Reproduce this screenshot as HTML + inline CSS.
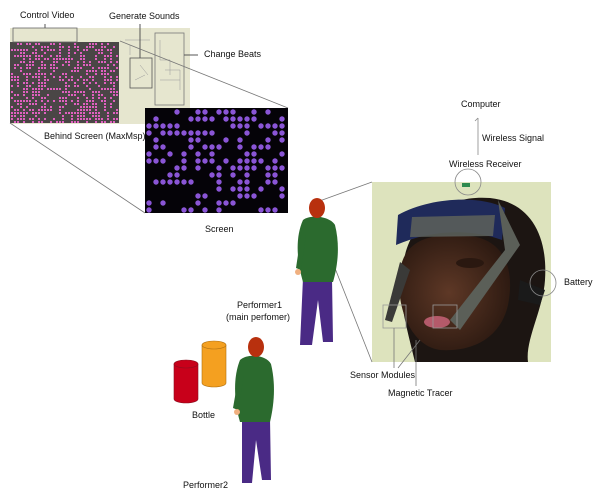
<!DOCTYPE html>
<html><head><meta charset="utf-8"><style>
html,body{margin:0;padding:0;background:#fff;width:600px;height:494px;overflow:hidden}
svg{display:block}
text{font-family:"Liberation Sans",sans-serif;font-size:9px;fill:#111}
</style></head><body>
<svg width="600" height="494" viewBox="0 0 600 494" xmlns="http://www.w3.org/2000/svg">
<defs>
<radialGradient id="face" cx="0.45" cy="0.5" r="0.6"><stop offset="0" stop-color="#5e3826"/><stop offset="1" stop-color="#2a1810"/></radialGradient>
</defs>
<!-- MaxMsp window -->
<rect x="10" y="28" width="180" height="96" fill="#e6e6cf"/>
<rect x="10" y="42" width="109" height="81" fill="#4a4646"/>
<g id="pink"></g>
<rect x="13" y="28" width="64" height="14" fill="none" stroke="#666" stroke-width="0.8"/>
<rect x="130" y="58" width="22" height="30" fill="none" stroke="#555" stroke-width="0.8"/>
<rect x="155" y="33" width="29" height="72" fill="none" stroke="#777" stroke-width="0.8"/>
<g stroke="#999" stroke-width="0.5" fill="none">
<path d="M160 40v20h10v15M165 70h15v20M160 80h20M125 40h25M130 45v10M140 65l8 10M135 80l10-5"/>
</g>
<line x1="45" y1="24" x2="45" y2="28" stroke="#555"/>
<line x1="140" y1="24" x2="140" y2="58" stroke="#555"/>
<line x1="184" y1="55" x2="198" y2="55" stroke="#555"/>
<line x1="10" y1="123" x2="145" y2="213" stroke="#777" stroke-width="0.8"/>
<line x1="120" y1="41" x2="288" y2="108" stroke="#777" stroke-width="0.8"/>
<!-- Screen -->
<rect x="145" y="108" width="143" height="105" fill="#050308"/>
<g id="dots" fill="#8a55d6"></g>
<!-- texts -->
<text x="20" y="18">Control Video</text>
<text x="109" y="19">Generate Sounds</text>
<text x="204" y="57">Change Beats</text>
<text x="44" y="139">Behind Screen (MaxMsp)</text>
<text x="205" y="232">Screen</text>
<text x="461" y="107">Computer</text>
<text x="482" y="141">Wireless Signal</text>
<text x="449" y="167">Wireless Receiver</text>
<text x="564" y="285">Battery</text>
<text x="237" y="308">Performer1</text>
<text x="226" y="320">(main perfomer)</text>
<text x="350" y="378">Sensor Modules</text>
<text x="388" y="396">Magnetic Tracer</text>
<text x="192" y="418">Bottle</text>
<text x="183" y="488">Performer2</text>
<line x1="478" y1="118" x2="478" y2="155" stroke="#888" stroke-width="0.8"/>
<line x1="478" y1="118" x2="475" y2="121" stroke="#888" stroke-width="0.8"/>
<!-- photo -->
<rect x="372" y="182" width="179" height="180" fill="#dde3bd"/>
<path d="M415 362 C405 320 395 290 405 255 C415 215 450 195 490 198 C530 202 548 235 545 280 C543 310 525 340 528 362 Z" fill="#1c1512"/>
<path d="M400 270 C405 240 430 232 470 236 C505 240 515 270 508 305 C500 340 470 352 440 350 C410 346 395 305 400 270Z" fill="url(#face)"/>
<ellipse cx="470" cy="263" rx="14" ry="5" fill="#2a1810"/>
<ellipse cx="437" cy="322" rx="13" ry="6" fill="#b45a6a"/>
<path d="M398 215 C430 197 480 195 505 208 L502 240 C470 228 430 230 396 245 Z" fill="#1f2a5a"/>
<path d="M412 217 L495 215 L493 236 L410 237 Z" fill="#5a5e5a" opacity="0.9"/>
<path d="M498 200 L520 245 L460 330 L450 320 L505 250 Z" fill="#5b5f58"/>
<path d="M400 262 L385 320 L392 322 L410 270 Z" fill="#3a3a38"/>
<path d="M520 280 L545 290 L540 305 L518 300 Z" fill="#1a1a1a"/>
<rect x="462" y="183" width="8" height="4" fill="#2d8a4e"/>
<circle cx="468" cy="182" r="13" fill="none" stroke="#888" stroke-width="0.8"/>
<circle cx="543" cy="283" r="13" fill="none" stroke="#888" stroke-width="0.8"/>
<rect x="383" y="305" width="23" height="23" fill="none" stroke="#999" stroke-width="0.8"/>
<rect x="433" y="305" width="24" height="23" fill="none" stroke="#999" stroke-width="0.8"/>
<line x1="394" y1="328" x2="394" y2="368" stroke="#777" stroke-width="0.8"/>
<line x1="420" y1="340" x2="398" y2="368" stroke="#777" stroke-width="0.8"/>
<line x1="416" y1="340" x2="416" y2="386" stroke="#777" stroke-width="0.8"/>
<line x1="314" y1="203" x2="372" y2="182" stroke="#777" stroke-width="0.8"/>
<line x1="316" y1="220" x2="372" y2="362" stroke="#777" stroke-width="0.8"/>
<!-- performer1 -->
<g>
<path d="M303 278 L332 278 L333 342 L323 342 L318 300 L312 345 L300 345 Z" fill="#4a2a85"/>
<path d="M303 220 C310 214 330 216 335 225 C340 245 338 265 333 282 L303 282 C298 265 294 240 303 220Z" fill="#2b6a2e"/>
<path d="M302 228 L296 268 L301 270 L306 235Z" fill="#2b6a2e"/>
<ellipse cx="317" cy="208" rx="8" ry="10" fill="#b8300e"/>
<ellipse cx="298" cy="272" rx="3" ry="3" fill="#f0b080"/>
</g>
<!-- bottles -->
<g stroke="#8a1020" stroke-width="0.6">
<path d="M174 364 V399 A12 4 0 0 0 198 399 V364Z" fill="#c8001a"/>
<ellipse cx="186" cy="364" rx="12" ry="4" fill="#c8001a"/>
</g>
<g stroke="#b07010" stroke-width="0.6">
<path d="M202 345 V383 A12 4 0 0 0 226 383 V345Z" fill="#f4a020"/>
<ellipse cx="214" cy="345" rx="12" ry="4" fill="#f4a020"/>
</g>
<!-- performer2 -->
<g>
<path d="M242 418 L270 418 L271 480 L262 480 L256 440 L252 483 L242 483 Z" fill="#4a2a85"/>
<path d="M240 360 C248 353 266 355 271 364 C276 385 274 405 270 422 L240 422 C235 405 232 380 240 360Z" fill="#2b6a2e"/>
<path d="M240 368 L233 408 L238 410 L244 375Z" fill="#2b6a2e"/>
<ellipse cx="256" cy="347" rx="8" ry="10" fill="#b8300e"/>
<ellipse cx="237" cy="412" rx="3" ry="3" fill="#f0b080"/>
</g>
</svg>
<script>
(function(){var ns='http://www.w3.org/2000/svg',g=document.getElementById('dots'),s=7;for(var y=112;y<212;y+=s)for(var x=149;x<286;x+=s){var r=Math.sin(x*12.9898+y*78.233)*43758.5;r=r-Math.floor(r);if(r<0.45){var c=document.createElementNS(ns,'circle');c.setAttribute('cx',x);c.setAttribute('cy',y);c.setAttribute('r',2.7);g.appendChild(c);}}
var pg=document.getElementById('pink');pg.setAttribute('fill','#e060c0');for(var y=43;y<122;y+=3)for(var x=11;x<118;x+=3){var r=Math.sin(x*7.13+y*3.71)*9137.3;r=r-Math.floor(r);if(r<0.5){var q=document.createElementNS(ns,'rect');q.setAttribute('x',x);q.setAttribute('y',y);q.setAttribute('width',2);q.setAttribute('height',2);pg.appendChild(q);}}})();
</script>
</body></html>
